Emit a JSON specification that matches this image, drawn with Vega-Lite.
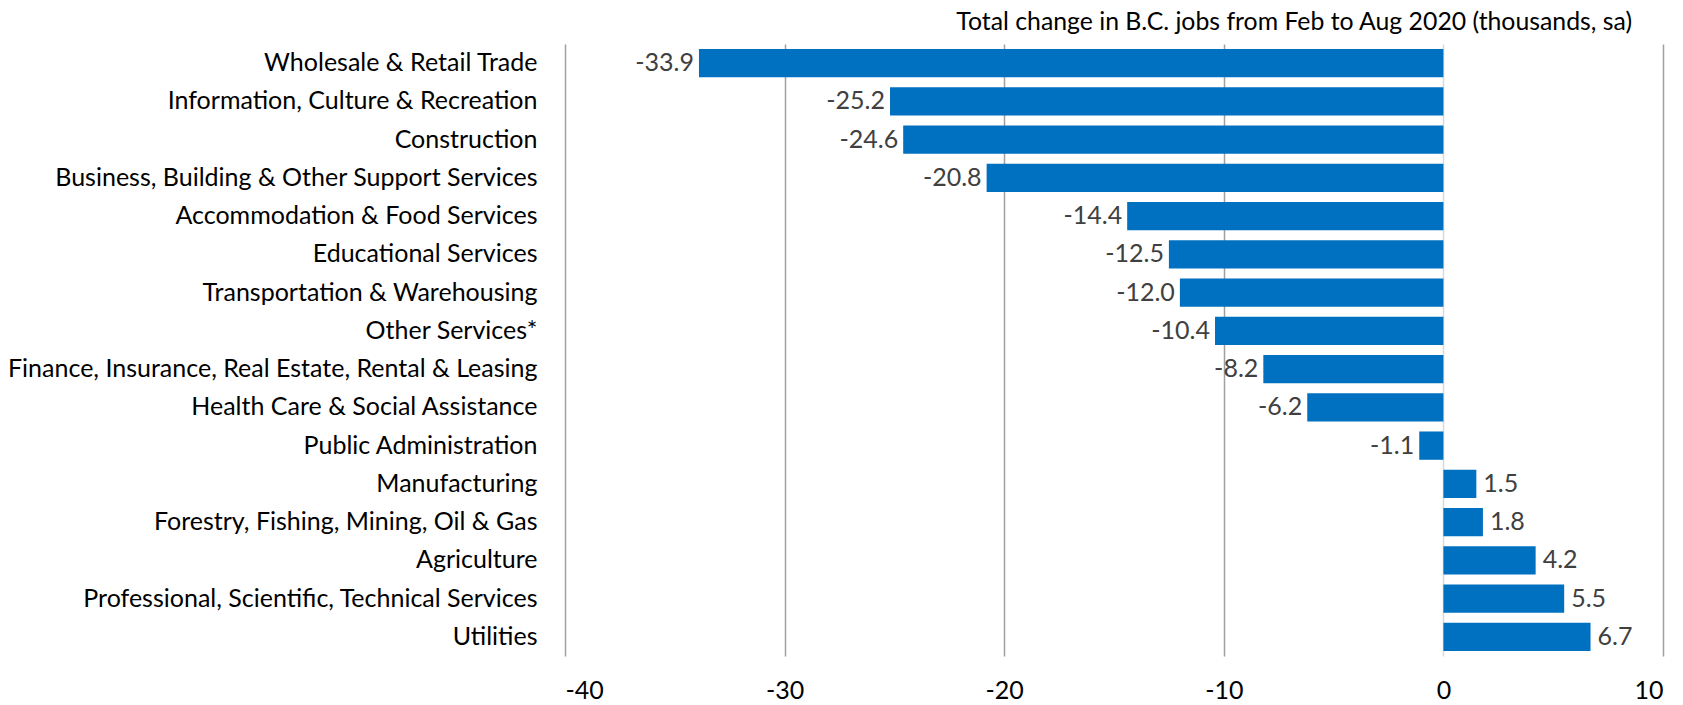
{
  "$schema": "https://vega.github.io/schema/vega-lite/v6.json",
  "autosize": {"type": "none"},
  "padding": {"left": 565, "top": 44, "right": 20, "bottom": 49},
  "width": 1098,
  "height": 612,
  "background": "white",
  "title": {
    "text": "Total change in B.C. jobs from Feb to Aug 2020 (thousands, sa)",
    "anchor": "end",
    "orient": "top",
    "font": "Lato",
    "fontSize": 24.8,
    "fontWeight": "normal",
    "color": "#000000",
    "dx": -31,
    "offset": 9
  },
  "data": {
    "values": [
      {"sector": "Wholesale & Retail Trade", "change": -33.9},
      {"sector": "Information, Culture & Recreation", "change": -25.2},
      {"sector": "Construction", "change": -24.6},
      {"sector": "Business, Building & Other Support Services", "change": -20.8},
      {"sector": "Accommodation & Food Services", "change": -14.4},
      {"sector": "Educational Services", "change": -12.5},
      {"sector": "Transportation & Warehousing", "change": -12.0},
      {"sector": "Other Services*", "change": -10.4},
      {"sector": "Finance, Insurance, Real Estate, Rental & Leasing", "change": -8.2},
      {"sector": "Health Care & Social Assistance", "change": -6.2},
      {"sector": "Public Administration", "change": -1.1},
      {"sector": "Manufacturing", "change": 1.5},
      {"sector": "Forestry, Fishing, Mining, Oil & Gas", "change": 1.8},
      {"sector": "Agriculture", "change": 4.2},
      {"sector": "Professional, Scientific, Technical Services", "change": 5.5},
      {"sector": "Utilities", "change": 6.7}
    ]
  },
  "encoding": {
    "y": {
      "field": "sector",
      "type": "nominal",
      "sort": null,
      "scale": {"paddingInner": 0.26, "paddingOuter": 0.13},
      "axis": {
        "title": null,
        "ticks": false,
        "domain": false,
        "labelFont": "Lato",
        "labelFontSize": 25,
        "labelColor": "#000000",
        "labelPadding": 28,
        "labelLimit": 0
      }
    },
    "x": {
      "field": "change",
      "type": "quantitative",
      "scale": {"domain": [-40, 10], "nice": false, "zero": false},
      "axis": {
        "title": null,
        "values": [-40, -30, -20, -10, 0, 10],
        "format": "d",
        "grid": true,
        "gridColor": {"condition": {"test": "datum.value === 0", "value": "#D9D9D9"}, "value": "#A0A0A0"},
        "gridWidth": 1.5,
        "ticks": false,
        "domain": false,
        "labelFont": "Lato",
        "labelFontSize": 25,
        "labelColor": "#000000",
        "labelPadding": 22
      }
    }
  },
  "layer": [
    {
      "mark": {"type": "bar", "color": "#0070C0"}
    },
    {
      "transform": [{"filter": "datum.change < 0"}],
      "mark": {"type": "text", "align": "right", "baseline": "middle", "dx": -5, "font": "Lato", "fontSize": 25, "color": "#404040"},
      "encoding": {"text": {"field": "change", "type": "quantitative", "format": ".1f"}}
    },
    {
      "transform": [{"filter": "datum.change > 0"}],
      "mark": {"type": "text", "align": "left", "baseline": "middle", "dx": 7, "font": "Lato", "fontSize": 25, "color": "#404040"},
      "encoding": {"text": {"field": "change", "type": "quantitative", "format": ".1f"}}
    }
  ],
  "config": {
    "view": {"stroke": null},
    "locale": {"number": {"decimal": ".", "thousands": ",", "grouping": [3], "currency": ["$", ""], "minus": "-"}}
  }
}
